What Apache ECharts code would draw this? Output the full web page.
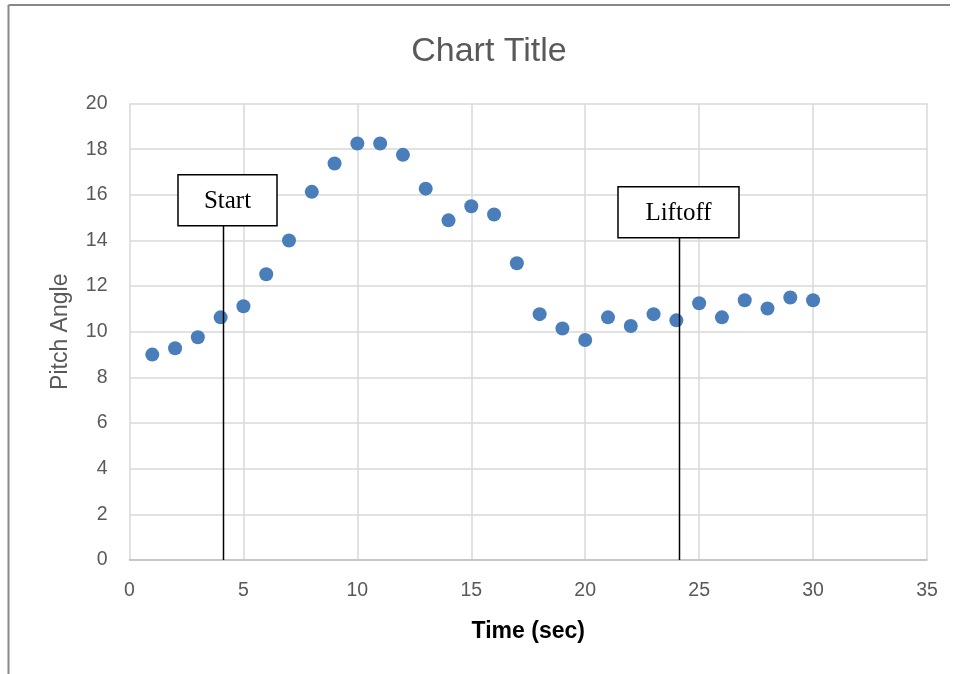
<!DOCTYPE html>
<html>
<head>
<meta charset="utf-8">
<script src="https://cdn.jsdelivr.net/npm/echarts@6/dist/echarts.min.js"></script>
<style>
  html, body { margin: 0; padding: 0; background: #fff; }
  #chart { width: 959px; height: 674px; }
</style>
</head>
<body>
<div id="chart"></div>
<script>
// Time in seconds and measured pitch angle in degrees
const timeSec = [1, 2, 3, 4, 5, 6, 7, 8, 9, 10, 11, 12, 13, 14, 15, 16, 17, 18, 19, 20, 21, 22, 23, 24, 25, 26, 27, 28, 29, 30];
const pitchAngle = [9.0, 9.28, 9.76, 10.63, 11.12, 12.52, 14.0, 16.13, 17.37, 18.25, 18.25, 17.75, 16.27, 14.88, 15.5, 15.14, 13.0, 10.77, 10.14, 9.64, 10.63, 10.25, 10.77, 10.5, 11.25, 10.63, 11.38, 11.02, 11.5, 11.38];

// Event markers: callout text, time of event, pitch value where the callout box sits
const eventLabels = ['Start', 'Liftoff'];
const eventTimes = [4.09, 24.12];
const eventBoxBase = [14.64, 14.12];
const eventBoxWidth = [99, 121];

const xTicks = { min: 0, max: 35, interval: 5 };
const yTicks = { min: 0, max: 20, interval: 2 };

const chart = echarts.init(document.getElementById('chart'), null, { renderer: 'canvas' });
const axisFont = 'Liberation Sans, Arial, sans-serif';

chart.setOption({
  animation: false,
  backgroundColor: '#fff',
  grid: { left: 129.5, right: 32, top: 103.5, bottom: 114, containLabel: false },
  xAxis: {
    type: 'value', min: xTicks.min, max: xTicks.max, interval: xTicks.interval,
    name: 'Time (sec)', nameLocation: 'middle', nameGap: 60,
    nameTextStyle: { fontFamily: axisFont, fontSize: 23, fontWeight: 'bold', color: '#000' },
    axisLine: { show: true, lineStyle: { color: '#bfbfbf', width: 1.5 } },
    axisTick: { show: false },
    axisLabel: { fontFamily: axisFont, fontSize: 19.5, color: '#595959', margin: 21 },
    splitLine: { show: true, lineStyle: { color: '#d9d9d9', width: 1.5 } }
  },
  yAxis: {
    type: 'value', min: yTicks.min, max: yTicks.max, interval: yTicks.interval,
    name: 'Pitch Angle', nameLocation: 'middle', nameGap: 57, nameRotate: 90,
    nameTextStyle: { fontFamily: axisFont, fontSize: 23, color: '#595959' },
    axisLine: { show: false },
    axisTick: { show: false },
    axisLabel: { fontFamily: axisFont, fontSize: 19.5, color: '#595959', margin: 22 },
    splitLine: { show: true, lineStyle: { color: '#d9d9d9', width: 1.5 } }
  },
  series: [{
    type: 'scatter',
    data: timeSec.map((t, i) => [t, pitchAngle[i]]),
    symbol: 'circle', symbolSize: 14,
    itemStyle: { color: '#4a7ebb', opacity: 1 }
  }]
});

const graphics = [];

// Chart title
graphics.push({
  type: 'text', z: 20, x: 489, y: 52,
  style: {
    text: 'Chart Title', fill: '#595959',
    font: '34px "Liberation Sans", Arial, sans-serif',
    align: 'center', verticalAlign: 'middle'
  }
});

// Callout boxes with leader lines down to the time axis
eventLabels.forEach((label, i) => {
  const base = chart.convertToPixel({ gridIndex: 0 }, [eventTimes[i], 0]);
  const top = chart.convertToPixel({ gridIndex: 0 }, [eventTimes[i], eventBoxBase[i]]);
  const x = Math.round(base[0]) + 0.5;
  graphics.push({
    type: 'line', z: 10,
    shape: { x1: x, y1: base[1], x2: x, y2: top[1] },
    style: { stroke: '#000', lineWidth: 1.5 }
  });
  const w = eventBoxWidth[i], h = 51;
  const cx = i === 0 ? x + 4 : x - 1;
  graphics.push({
    type: 'rect', z: 11,
    shape: { x: cx - w / 2, y: top[1] - h, width: w, height: h },
    style: { fill: '#fff', stroke: '#000', lineWidth: 1.5 }
  });
  graphics.push({
    type: 'text', z: 12,
    x: cx, y: top[1] - h / 2 + 1,
    style: {
      text: label, fill: '#000',
      font: '25px "Liberation Serif", "Times New Roman", serif',
      align: 'center', verticalAlign: 'middle'
    }
  });
});

// Frame edge along the top and left of the chart area
graphics.push({ type: 'line', z: 20, shape: { x1: 8.5, y1: 5, x2: 950, y2: 5 }, style: { stroke: '#888', lineWidth: 2 } });
graphics.push({ type: 'line', z: 20, shape: { x1: 8.5, y1: 5, x2: 8.5, y2: 674 }, style: { stroke: '#888', lineWidth: 2 } });

chart.setOption({ graphic: graphics });
</script>
</body>
</html>
